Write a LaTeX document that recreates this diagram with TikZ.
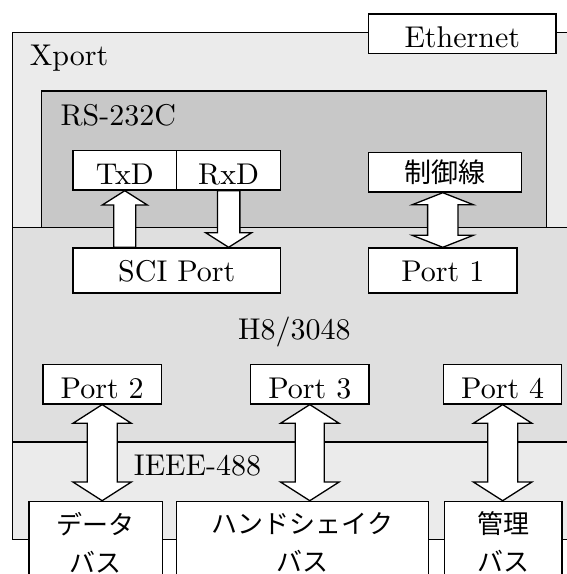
\documentclass[tikz,border=0pt]{standalone}
\usepackage{fontspec}
\setmainfont{lmroman10-regular.otf}
\newfontfamily\jpfont{Noto Sans CJK JP}
\usetikzlibrary{calc}
\definecolor{xportgray}{HTML}{EBEBEB}
\definecolor{rsgray}{HTML}{C8C8C8}
\definecolor{hgray}{HTML}{DFDFDF}
\newcommand\DblArrow[5]{%
  \draw[blk] (#1) -- ($(#1)+(#4,#5)$) -- ($(#1)+(#3,#5)$) -- ($(#1 |- #2)+(#3,-#5)$) -- ($(#1 |- #2)+(#4,-#5)$) -- (#1 |- #2) -- ($(#1 |- #2)+(-#4,-#5)$) -- ($(#1 |- #2)+(-#3,-#5)$) -- ($(#1)+(-#3,#5)$) -- ($(#1)+(-#4,#5)$) -- cycle;}
\begin{document}
\begin{tikzpicture}[x=1pt,y=-1pt,line width=1.3pt,
  lbl/.style={font=\fontsize{30}{34}\selectfont,inner sep=0pt},
  box/.style={draw,fill=white,inner sep=0pt,anchor=north west,font=\fontsize{30}{34}\selectfont,text height=27.4pt,text depth=0pt},
  tallbox/.style={box,text height=21.8pt},
  jpline/.style={draw,fill=white,inner sep=0pt,anchor=north west,font=\jpfont\fontsize{27}{34}\selectfont},
  jpbox/.style={draw,fill=white,inner sep=0pt,anchor=north west,align=center,font=\jpfont\fontsize{26}{38}\selectfont},
  blk/.style={draw,fill=white,line width=1.3pt,line join=miter}]
\useasboundingbox (0,0) rectangle (567,574);
\clip (0,0) rectangle (567,574);
% regions
\draw[fill=xportgray] (12.7,32.3) rectangle (620,539.3);
\draw[fill=rsgray] (41.7,91) rectangle (546.5,260);
\draw[fill=hgray] (12.7,227.7) rectangle (620,442);
% region labels
\node[lbl,anchor=base west] (xportlbl) at (29.3,65) {Xport};
\node[lbl,anchor=base west] (rslbl) at (60,125) {RS-232C};
\node[lbl,anchor=base] (h8lbl) at (294.3,339) {H8/3048};
\node[lbl,anchor=base west] (ieeelbl) at (133.3,475) {IEEE-488};
% boxes
\node[box,minimum width=187.3,minimum height=39.4] (eth) at (368,13.3) {Ethernet};
\node[box,minimum width=103.7,minimum height=39.4] (txd) at (72.3,150) {TxD};
\node[box,minimum width=104,minimum height=39.4] (rxd) at (176,150) {RxD};
\node[jpline,minimum width=153,minimum height=39.4,yshift=-2pt] (ctrl) at (368,150) {制御線};
\node[tallbox,minimum width=207.7,minimum height=45] (sci) at (72.3,247.3) {SCI Port};
\node[tallbox,minimum width=148.3,minimum height=45] (port1) at (368,247.3) {Port 1};
\node[box,minimum width=118.4,minimum height=39.3] (port2) at (42.3,364) {Port 2};
\node[box,minimum width=118.3,minimum height=39.3] (port3) at (250,364) {Port 3};
\node[box,minimum width=118,minimum height=39.3] (port4) at (443,364) {Port 4};
\node[jpbox,minimum width=133.4,minimum height=82] (data) at (28.3,500.7) {データ\\バス};
\node[jpbox,minimum width=251.7,minimum height=82] (hand) at (176,500.7) {ハンドシェイク\\バス};
\node[jpbox,minimum width=117.6,minimum height=82] (mgmt) at (443.7,500.7) {管理\\バス};
% arrows
\draw[blk] (txd.south) -- ($(txd.south)+(22.5,14.3)$) -- ($(txd.south)+(11,14.3)$) -- ($(txd.south |- sci.north)+(11,0)$) -- ($(txd.south |- sci.north)+(-11,0)$) -- ($(txd.south)+(-11,14.3)$) -- ($(txd.south)+(-22.5,14.3)$) -- cycle;
\draw[blk] (rxd.south |- sci.north) -- ($(rxd.south |- sci.north)+(23,-14.6)$) -- ($(rxd.south |- sci.north)+(11.2,-14.6)$) -- ($(rxd.south)+(11.2,0)$) -- ($(rxd.south)+(-11.2,0)$) -- ($(rxd.south |- sci.north)+(-11.2,-14.6)$) -- ($(rxd.south |- sci.north)+(-23,-14.6)$) -- cycle;
\coordinate (ctrltip) at (port1.north |- ctrl.south);
\DblArrow{ctrltip}{port1.north}{15.2}{30.5}{12}
\DblArrow{port2.south}{data.north}{15}{29.2}{18.7}
\DblArrow{port3.south}{hand.north}{14.5}{29.3}{18.7}
\DblArrow{port4.south}{mgmt.north}{15}{29.3}{18.7}
\end{tikzpicture}
\end{document}
